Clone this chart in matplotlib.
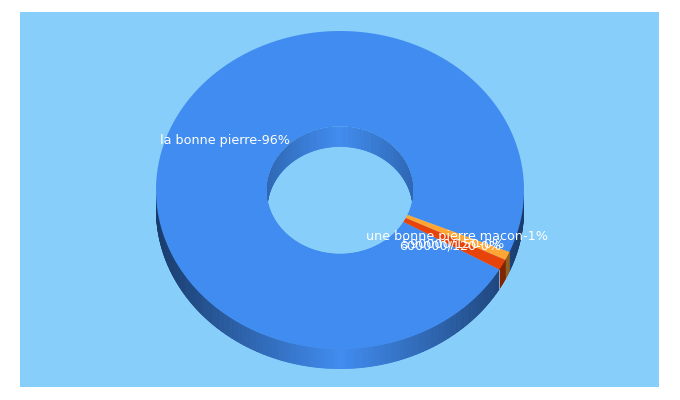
"""Flat 3D donut chart of keyword shares."""

import numpy as np
import matplotlib.pyplot as plt
from matplotlib.collections import PolyCollection
from matplotlib.colors import to_rgb
from matplotlib.patches import Polygon, Rectangle

# sweep shares (the printed labels are rounded differently)
slice_names = ["la bonne pierre", "une bonne pierre macon", "600000/120", "590000/150"]
slice_shares = [98.05, 0.85, 1.10, 0.0]
slice_labels = ["la bonne pierre-96%", "une bonne pierre macon-1%", "600000/120-0%", "590000/150-0%"]
slice_colors = ["#418cf0", "#ffa634", "#e8430a", "#418cf0"]
wall_dark = ["#1a3c6c", "#8f6224", "#7f2500", "#1a3c6c"]

# layout, in reference pixels
BG = "#87cefa"
CX, CY = 340, 190
RX, RY = 184, 159
HOLE_RX, HOLE_RY = 73, 63.5
DEPTH = 20
START = 23.0  # degrees clockwise on screen, where the orange slice begins
LABEL_POS = [(160, 140.6), (366, 236.6), (399, 245.6), (402, 243.6)]


def ring_point(theta, rx, ry, dy=0):
    return CX + rx * np.cos(theta), CY + ry * np.sin(theta) + dy


def blend(dark, light, t):
    return tuple(np.array(to_rgb(light)) * (1 - t) + np.array(to_rgb(dark)) * t)


def slice_spans():
    """Start and end angle per slice, main slice drawn last around the circle."""
    spans = {}
    pos = START
    for i in [1, 2, 3, 0]:
        sweep = slice_shares[i] / sum(slice_shares) * 360
        spans[i] = (pos, pos + sweep)
        pos += sweep
    return spans


fig = plt.figure(figsize=(6.8, 4), dpi=100)
ax = fig.add_axes([0, 0, 1, 1])
ax.set_xlim(0, 680)
ax.set_ylim(400, 0)
ax.axis("off")
ax.add_patch(Rectangle((20, 12), 639, 375, color=BG, lw=0, zorder=0))

spans = slice_spans()

# outer wall, front half only, kept inside the lower ellipse
th = np.linspace(0, 2 * np.pi, 600)
lower = Polygon(np.column_stack(ring_point(th, RX, RY, DEPTH)), closed=True, fc="none", ec="none", transform=ax.transData)
ax.add_patch(lower)
quads, colors = [], []
for i in [0, 1, 2]:
    a0, a1 = spans[i]
    for deg in np.arange(a0, a1, 0.5):
        for shift in (0, 360, -360):
            lo, hi = np.radians(deg + shift), np.radians(min(deg + 0.5, a1) + shift)
            if hi < 0 or lo > np.pi:
                continue
            xa, ya = ring_point(lo, RX, RY)
            xb, yb = ring_point(hi, RX, RY)
            quads.append([(xa, ya), (xb, yb), (xb, yb + DEPTH), (xa, ya + DEPTH)])
            t = abs(np.cos((lo + hi) / 2))
            if i == 0:
                colors.append(blend(wall_dark[0], slice_colors[0], t))
            else:
                colors.append(wall_dark[i])
outer_wall = PolyCollection(quads, facecolors=colors, edgecolors=colors, linewidths=0.5, zorder=1)
ax.add_collection(outer_wall)
outer_wall.set_clip_path(lower)

# light seam where the red slice meets the main one
seam_x, seam_y = ring_point(np.radians(spans[2][1]), RX, RY)
ax.plot([seam_x, seam_x], [seam_y, seam_y + DEPTH], color="#9fbfe6", lw=0.6, zorder=1.5, clip_path=lower)

# top face
for i in [0, 1, 2]:
    a0, a1 = np.radians(spans[i])
    th = np.linspace(a0, a1, 400)
    outer = np.column_stack(ring_point(th, RX, RY))
    inner = np.column_stack(ring_point(th[::-1], HOLE_RX, HOLE_RY))
    ax.add_patch(Polygon(np.vstack([outer, inner]), closed=True, fc=slice_colors[i], ec="none", zorder=2))

# hole, with the far inner wall showing through it
th = np.linspace(0, 2 * np.pi, 400)
hole = Polygon(np.column_stack(ring_point(th, HOLE_RX, HOLE_RY)), closed=True, fc=BG, ec="none", zorder=3)
ax.add_patch(hole)
quads, colors = [], []
for deg in np.arange(180, 360, 1.0):
    lo, hi = np.radians(deg), np.radians(deg + 1.0)
    xa, ya = ring_point(lo, HOLE_RX, HOLE_RY)
    xb, yb = ring_point(hi, HOLE_RX, HOLE_RY)
    quads.append([(xa, ya), (xb, yb), (xb, yb + DEPTH), (xa, ya + DEPTH)])
    colors.append(blend("#2f68b4", slice_colors[0], abs(np.cos((lo + hi) / 2))))
inner_wall = PolyCollection(quads, facecolors=colors, edgecolors=colors, linewidths=0.5, zorder=4)
ax.add_collection(inner_wall)
inner_wall.set_clip_path(hole)

# labels
for text, (x, y) in zip(slice_labels, LABEL_POS):
    ax.text(x, y, text, color="white", fontsize=9.2, family="DejaVu Sans", ha="left", va="center", zorder=6)

fig.savefig("out.png", dpi=100)
